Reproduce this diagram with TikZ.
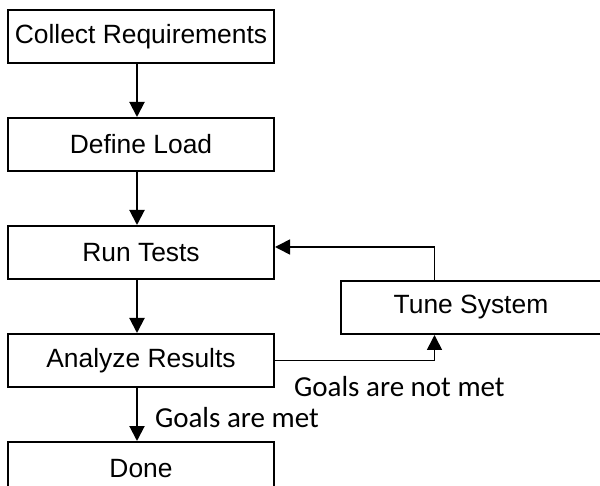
\documentclass[tikz,border=0pt]{standalone}
\usepackage{fontspec}
\setmainfont{Liberation Sans}
\newfontfamily\labelfont{Carlito}
\usetikzlibrary{positioning,arrows.meta}

\begin{document}
\begin{tikzpicture}[
		node distance=26.5pt,
		box/.style={
				draw,
				line width=1pt,
				inner sep=2pt,
				minimum width=133pt,
				minimum height=26.5pt,
				font=\fontsize{13.2}{15}\selectfont
			},
		goal/.style={
				inner sep=0pt,
				font=\labelfont\fontsize{14.5}{17}\selectfont
			},
		> ={Triangle[length=7.5pt,width=7.5pt]}
	]

	\useasboundingbox (-70.5pt,18.25pt) rectangle (229.5pt,-224.75pt);

	\node[box] (collect) {Collect Requirements};

	\node[box] (load) [below=of collect]
	{Define Load};

	\node[box] (tests) [below=of load]
	{Run Tests};

	\node[box] (analyze) [below=of tests]
	{Analyze Results};

	\node[box] (done) [below=of analyze]
	{Done};

	\node[box, minimum width=130pt] (tune) [below right=0pt and 32.5pt of tests]
	{Tune System};

	\draw[->,line width=1pt] ([xshift=-2pt]collect.south) -- ([xshift=-2pt]load.north);
	\draw[->,line width=1pt] ([xshift=-2pt]load.south) -- ([xshift=-2pt]tests.north);
	\draw[->,line width=1pt] ([xshift=-2pt]tests.south) -- ([xshift=-2pt]analyze.north);
	\draw[->,line width=1pt] ([xshift=-2pt]analyze.south) -- node[goal, right=8.5pt, yshift=-1.75pt] {Goals are met} ([xshift=-2pt]done.north);

	\draw[->,line width=0.8pt] (analyze) -| node[goal, pos=0.39, below=7.5pt] {Goals are not met} ([xshift=-18.25pt]tune.south);
	\draw[->,line width=0.8pt] ([xshift=-18.25pt]tune.north) |- ([yshift=2.75pt]tests.east);

\end{tikzpicture}
\end{document}
